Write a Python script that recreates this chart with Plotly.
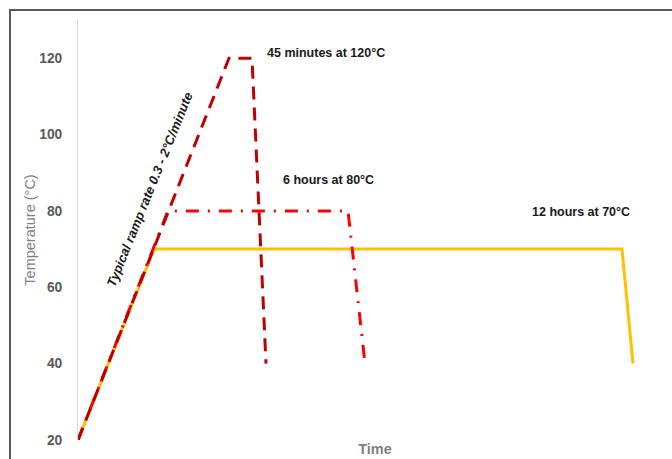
import plotly.graph_objects as go

# Time axis in arbitrary units (no tick labels in the reference)
cure120_time = [0, 151, 174, 188]
cure120_temp = [20, 120, 120, 40]

cure80_time = [0, 90, 270, 287]
cure80_temp = [20, 80, 80, 40]

cure70_time = [0, 76, 544, 555]
cure70_temp = [20, 70, 70, 40]

y_ticks = [20, 40, 60, 80, 100, 120]

labels = [
    ("45 minutes at 120°C", 187, 121.3),
    ("6 hours at 80°C", 203, 88.1),
    ("12 hours at 70°C", 452, 79.7),
]
ramp_label = ("Typical ramp rate 0.3 - 2°C/minute", 72, 85.5)

fig = go.Figure()
fig.add_trace(go.Scatter(x=cure70_time, y=cure70_temp, mode="lines",
                         line=dict(color="#FFC000", width=3), hoverinfo="skip"))
fig.add_trace(go.Scatter(x=cure80_time, y=cure80_temp, mode="lines",
                         line=dict(color="#FF0000", width=3, dash="13px,9px,2px,9px"),
                         hoverinfo="skip"))
fig.add_trace(go.Scatter(x=cure120_time, y=cure120_temp, mode="lines",
                         line=dict(color="#C00000", width=3, dash="13px,8px"),
                         hoverinfo="skip"))

for text, x, y in labels:
    fig.add_annotation(x=x, y=y, text=text, showarrow=False, xanchor="left",
                       yanchor="middle",
                       font=dict(family="Liberation Sans, Arial", size=12.5,
                                 color="#1a1a1a", weight="bold"))

fig.add_annotation(x=ramp_label[1], y=ramp_label[2], text=ramp_label[0],
                   showarrow=False, textangle=-68,
                   font=dict(family="Liberation Sans, Arial", size=13,
                             color="#1a1a1a", weight="bold", style="italic"))

# outer border of the chart area
fig.add_shape(type="rect", xref="paper", yref="paper",
              x0=(10 - 78) / 594, x1=1.2, y0=-0.3, y1=1 + 10 / 420,
              line=dict(color="#595959", width=2), fillcolor="rgba(0,0,0,0)",
              layer="above")

fig.update_layout(
    width=672, height=459,
    margin=dict(l=78, r=0, t=20, b=19, autoexpand=False),
    paper_bgcolor="white", plot_bgcolor="white",
    showlegend=False,
    font=dict(family="Liberation Sans, Arial"),
)
fig.update_xaxes(range=[0, 594], showticklabels=False, showgrid=False,
                 zeroline=False, showline=False, automargin=False,
                 title=dict(text="Time", standoff=3,
                            font=dict(size=14.5, color="#7f7f7f", weight="bold")))
fig.update_yaxes(range=[20, 130], tickvals=y_ticks, showgrid=False,
                 zeroline=False, showline=True, linecolor="#d9d9d9", linewidth=1,
                 ticks="", ticklabelstandoff=12, automargin=False,
                 tickfont=dict(size=13.8, color="#595959", weight="bold"),
                 title=dict(text="Temperature (°C)", standoff=0,
                            font=dict(size=14.5, color="#7f7f7f")))

fig.write_html("out.html", config={"displayModeBar": False},
               post_script="document.body.style.margin='0';")
